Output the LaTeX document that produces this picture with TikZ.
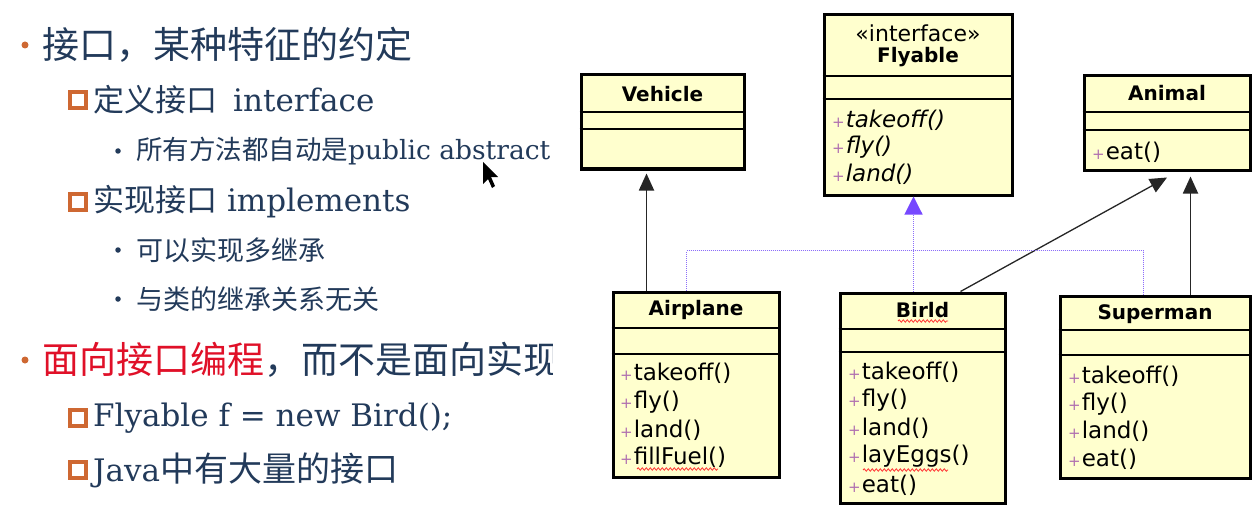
\documentclass[tikz,border=0pt]{standalone}
\usepackage{fontspec}
\setmainfont{DejaVu Serif}
\newfontfamily\cjk{Noto Sans CJK SC}
\newfontfamily\umlfont{DejaVu Sans}
\usetikzlibrary{arrows.meta,decorations.pathmorphing}
\definecolor{slidetext}{RGB}{34,58,90}
\definecolor{slidered}{RGB}{224,16,40}
\definecolor{slideorange}{RGB}{206,104,50}
\definecolor{classfill}{RGB}{255,255,206}
\definecolor{plusmark}{RGB}{176,112,176}
\definecolor{realline}{RGB}{140,110,250}
\definecolor{realhead}{RGB}{118,72,255}
\newcommand{\umlplus}{\textcolor{plusmark}{\fontsize{15}{15}\selectfont+}\kern1pt}

\begin{document}
\begin{tikzpicture}[x=1pt,y=-1pt,
  lvlone/.style={anchor=west,inner sep=0pt,text=slidetext,font=\cjk\fontsize{37}{40}\selectfont},
  lvltwo/.style={anchor=west,inner sep=0pt,text=slidetext,font=\fontsize{31}{34}\selectfont},
  lvlthree/.style={anchor=west,inner sep=0pt,text=slidetext,font=\fontsize{26.5}{30}\selectfont},
  bigdot/.style={circle,fill=slideorange,inner sep=0pt,minimum size=7pt},
  subdot/.style={circle,fill=slidetext,inner sep=0pt,minimum size=5.5pt},
  boxmark/.style={draw=slideorange,line width=4pt,inner sep=0pt,minimum size=16pt},
  classbox/.style={draw=black,line width=3pt,fill=classfill,inner sep=0pt},
  compline/.style={draw=black,line width=2pt},
  classname/.style={inner sep=0pt,font=\umlfont\bfseries\fontsize{20}{22}\selectfont},
  stereo/.style={inner sep=0pt,font=\umlfont\fontsize{22}{24}\selectfont},
  method/.style={anchor=west,inner sep=0pt,font=\umlfont\fontsize{23}{26}\selectfont},
  absmethod/.style={method,font=\umlfont\itshape\fontsize{23}{26}\selectfont},
  generalize/.style={draw=black!85,line width=1.8pt,-{Triangle[width=15pt,length=17pt]}},
  realize/.style={draw=realline,line width=1.1pt,dash pattern=on 1pt off 1pt},
  realarrow/.style={realize,-{Triangle[width=18pt,length=18pt,color=realhead]}},
  spellmark/.style={draw=red!80,line width=0.8pt,decorate,decoration={snake,amplitude=1.2pt,segment length=4pt}}]
\useasboundingbox[fill=white] (0,0) rectangle (1253,524);
% slide text
\node[bigdot] (dot1) at (25,45) {};
\node[lvlone] (head1) at (42,45) {接口，某种特征的约定};
\node[boxmark] (sq1) at (78,100) {};
\node[lvltwo] (define) at (93,100) {{\cjk 定义接口}\hspace{16pt}interface};
\node[subdot] (dot2) at (118,151) {};
\node[lvlthree] (abstr) at (136,151) {{\cjk 所有方法都自动是}public abstract};
\node[boxmark] (sq2) at (78,202) {};
\node[lvltwo] (implement) at (93,202) {{\cjk 实现接口} implements};
\node[subdot] (dot3) at (118,250) {};
\node[lvlthree] (multi) at (136,250) {\cjk\fontsize{27}{30}\selectfont 可以实现多继承};
\node[subdot] (dot4) at (118,299) {};
\node[lvlthree] (unrel) at (136,299) {\cjk\fontsize{27}{30}\selectfont 与类的继承关系无关};
\node[bigdot] (dot5) at (25,360) {};
\begin{scope}
\clip (0,320) rectangle (552,400);
\node[lvlone] (head2) at (42,360) {{\color{slidered}面向接口编程}，而不是面向实现};
\end{scope}
\node[boxmark] (sq3) at (78,418) {};
\node[lvltwo] (flyvar) at (93,418) {Flyable f = new Bird();};
\node[boxmark] (sq4) at (78,470) {};
\node[lvltwo] (javaif) at (93,470) {Java{\cjk\fontsize{34}{36}\selectfont 中有大量的接口}};
% mouse pointer
\fill[black] (483,162) -- (483,184) -- (488,179) -- (492,188) -- (495,186) -- (491,177) -- (498,177) -- cycle;
% class boxes
\node[classbox,minimum width=163,minimum height=94] (vehicle) at (662.5,122) {};
\node[classname] (vehiclename) at (662.5,94) {Vehicle};
\draw[compline] ([yshift=-39pt]vehicle.north west) -- ([yshift=-39pt]vehicle.north east);
\draw[compline] ([yshift=-56pt]vehicle.north west) -- ([yshift=-56pt]vehicle.north east);
\node[classbox,minimum width=188,minimum height=180] (flyable) at (918,105) {};
\node[stereo] (flyablestereo) at (918,33) {«interface»};
\node[classname] (flyablename) at (918,57) {Flyable};
\draw[compline] ([yshift=-63pt]flyable.north west) -- ([yshift=-63pt]flyable.north east);
\draw[compline] ([yshift=-86pt]flyable.north west) -- ([yshift=-86pt]flyable.north east);
\node[absmethod] (fly1) at (832,120) {\umlplus takeoff()};
\node[absmethod] (fly2) at (832,147) {\umlplus fly()};
\node[absmethod] (fly3) at (832,174) {\umlplus land()};
\node[classbox,minimum width=166,minimum height=94] (animal) at (1167,123) {};
\node[classname] (animalname) at (1167,93) {Animal};
\draw[compline] ([yshift=-38pt]animal.north west) -- ([yshift=-38pt]animal.north east);
\draw[compline] ([yshift=-56pt]animal.north west) -- ([yshift=-56pt]animal.north east);
\node[method] (ani1) at (1092,152) {\umlplus eat()};
\node[classbox,minimum width=166,minimum height=185] (airplane) at (696,384.5) {};
\node[classname] (airplanename) at (696,310) {Airplane};
\draw[compline] ([yshift=-37pt]airplane.north west) -- ([yshift=-37pt]airplane.north east);
\draw[compline] ([yshift=-63pt]airplane.north west) -- ([yshift=-63pt]airplane.north east);
\node[method] (air1) at (620,373) {\umlplus takeoff()};
\node[method] (air2) at (620,402) {\umlplus fly()};
\node[method] (air3) at (620,430) {\umlplus land()};
\node[method] (air4) at (620,457) {\umlplus fillFuel()};
\node[classbox,minimum width=165,minimum height=210] (birld) at (922.5,398) {};
\node[classname] (birldname) at (922.5,310) {Birld};
\draw[compline] ([yshift=-37pt]birld.north west) -- ([yshift=-37pt]birld.north east);
\draw[compline] ([yshift=-60pt]birld.north west) -- ([yshift=-60pt]birld.north east);
\node[method] (bird1) at (848,372) {\umlplus takeoff()};
\node[method] (bird2) at (848,400) {\umlplus fly()};
\node[method] (bird3) at (848,428) {\umlplus land()};
\node[method] (bird4) at (848,456) {\umlplus layEggs()};
\node[method] (bird5) at (848,485) {\umlplus eat()};
\node[classbox,minimum width=190,minimum height=182] (superman) at (1155,387) {};
\node[classname] (supermanname) at (1155,314) {Superman};
\draw[compline] ([yshift=-35pt]superman.north west) -- ([yshift=-35pt]superman.north east);
\draw[compline] ([yshift=-60pt]superman.north west) -- ([yshift=-60pt]superman.north east);
\node[method] (sup1) at (1068,376) {\umlplus takeoff()};
\node[method] (sup2) at (1068,404) {\umlplus fly()};
\node[method] (sup3) at (1068,431) {\umlplus land()};
\node[method] (sup4) at (1068,459) {\umlplus eat()};
% spell check marks
\draw[spellmark] (637,469) -- (718,469);
\draw[spellmark] (898,321) -- (948,321);
\draw[spellmark] (863,470) -- (948,470);
% relations
\draw[generalize] ([xshift=35pt]airplane.north west) -- ([xshift=67pt,yshift=-3pt]vehicle.south west);
\draw[generalize] ([xshift=132pt]superman.north west) -- ([xshift=108pt,yshift=-5pt]animal.south west);
\draw[generalize,line width=1.3pt] ([xshift=122pt]birld.north west) -- ([yshift=-6pt]animal.south);
\draw[realize] ([xshift=75pt]airplane.north west) |- ([xshift=85pt,yshift=44pt]superman.north west) -- ([xshift=85pt]superman.north west);
\draw[realarrow] ([xshift=75pt]birld.north west) -- ([xshift=75pt]birld.north west |- flyable.south);
\end{tikzpicture}
\end{document}
